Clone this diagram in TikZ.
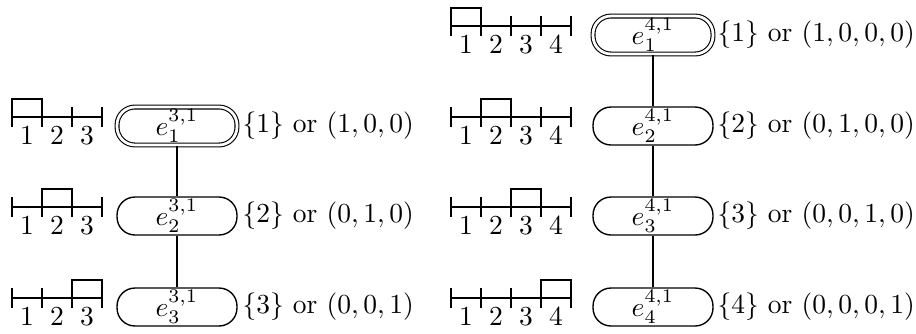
\documentclass[tikz,border=0pt]{standalone}
\newcommand{\segbar}[4]{%
  \draw[barline] (#1,#2) -- ++(#3*30,0);
  \foreach \i in {0,...,#3} \draw[barline] ({#1+\i*30},{#2-10}) -- ({#1+\i*30},{#2+10});
  \draw[barline] ({#1+(#4-1)*30},{#2+10}) -- ({#1+(#4-1)*30},{#2-18}) -- ({#1+#4*30},{#2-18}) -- ({#1+#4*30},{#2+10});
  \foreach \i in {1,...,#3} \node[digit] at ({#1+\i*30-15},{#2+27}) {$\i$};
}
\begin{document}
\begin{tikzpicture}[x=0.3636pt,y=-0.3636pt,
  barline/.style={line width=1pt},
  digit/.style={anchor=base,inner sep=0pt},
  elem/.style={draw,line width=0.5pt,rounded corners=6.5pt,minimum width=43.6pt,minimum height=13.8pt,inner sep=0pt},
  first/.style={double,double distance=1pt,line width=0.4pt},
  link/.style={line width=0.8pt},
  vec/.style={anchor=west,inner sep=0pt}]
\useasboundingbox (0,0) rectangle (916,333);

% left column
\segbar{12}{117}{3}{1}
\segbar{12}{207}{3}{2}
\segbar{12}{298}{3}{3}
\node[elem,first] (l1) at (177,126) {$e_1^{3,1}$};
\node[elem] (l2) at (177,216) {$e_2^{3,1}$};
\node[elem] (l3) at (177,307) {$e_3^{3,1}$};
\node[vec] (lt1) at (242,126) {$\{1\}$ or $(1,0,0)$};
\node[vec] (lt2) at (242,216) {$\{2\}$ or $(0,1,0)$};
\node[vec] (lt3) at (242,307) {$\{3\}$ or $(0,0,1)$};
\draw[link] (l1) -- (l2);
\draw[link] (l2) -- (l3);

% right column
\segbar{451}{26}{4}{1}
\segbar{451}{117}{4}{2}
\segbar{451}{207}{4}{3}
\segbar{451}{298}{4}{4}
\node[elem,first] (r1) at (653,35) {$e_1^{4,1}$};
\node[elem] (r2) at (653,126) {$e_2^{4,1}$};
\node[elem] (r3) at (653,216) {$e_3^{4,1}$};
\node[elem] (r4) at (653,307) {$e_4^{4,1}$};
\node[vec] (rt1) at (717,35) {$\{1\}$ or $(1,0,0,0)$};
\node[vec] (rt2) at (717,126) {$\{2\}$ or $(0,1,0,0)$};
\node[vec] (rt3) at (717,216) {$\{3\}$ or $(0,0,1,0)$};
\node[vec] (rt4) at (717,307) {$\{4\}$ or $(0,0,0,1)$};
\draw[link] (r1) -- (r2);
\draw[link] (r2) -- (r3);
\draw[link] (r3) -- (r4);
\end{tikzpicture}
\end{document}
